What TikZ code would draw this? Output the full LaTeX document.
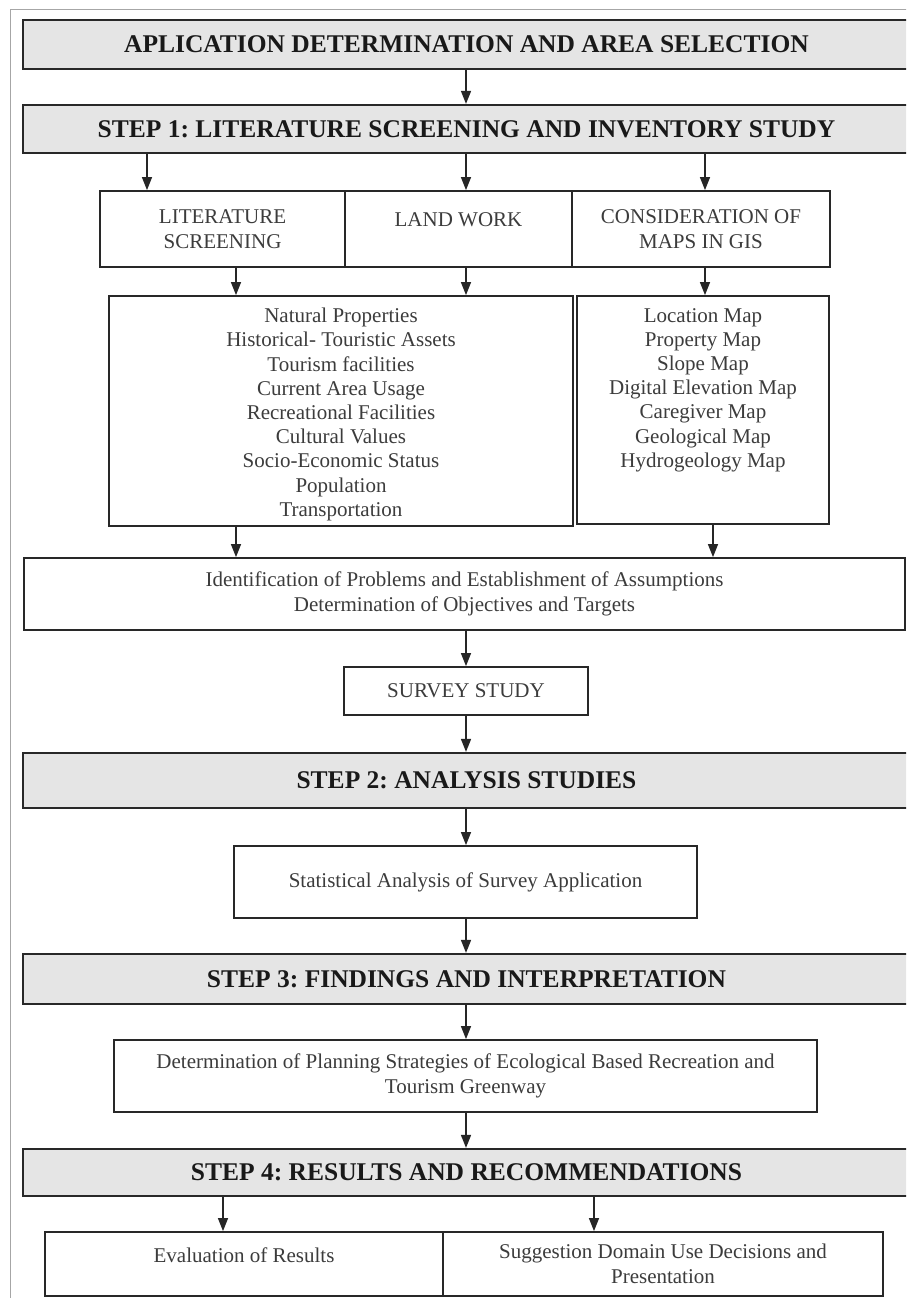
\documentclass[tikz,border=0pt]{standalone}
\usepackage{fontspec}
\setmainfont{Liberation Serif}
\usetikzlibrary{arrows.meta}
\frenchspacing
\definecolor{step-fill}{RGB}{229,229,229}
\definecolor{box-draw}{RGB}{40,40,40}
\definecolor{box-text}{RGB}{60,60,60}
\tikzset{stepbox/.style={draw=box-draw, fill=step-fill, line width=2.2pt, text=black!90, inner sep=0pt, font=\fontsize{25.5}{30}\selectfont\bfseries}}

\begin{document}
\begin{tikzpicture}[x=1pt, y=-1pt]
    % Page and outer frame (cut off at the right and at the bottom)
    \clip (0,0) rectangle (906,1298);
    \fill[white] (0,0) rectangle (906,1298);
    \draw[gray!70, line width=1pt] (10,1340) -- (10,10) -- (950,10);

    % Plain box and arrow styles
    \tikzset{plainbox/.style={draw=box-draw, fill=white, line width=1.8pt, text=box-text, align=center, inner sep=0pt, font=\fontsize{21}{24.5}\selectfont},
             listtext/.style={text=box-text, align=center, inner sep=0pt, anchor=north, font=\fontsize{21}{24.2}\selectfont},
             arr/.style={-{Triangle[length=13pt, width=10pt]}, line width=1.4pt, draw=black!85}}

    % Grey step bars
    \node[stepbox, minimum width=887pt, minimum height=49pt] (apl) at (466.5,44.5) {APLICATION DETERMINATION AND AREA SELECTION};
    \node[stepbox, minimum width=887pt, minimum height=48pt] (step1) at (466.5,129) {STEP 1: LITERATURE SCREENING AND INVENTORY STUDY};
    \node[stepbox, minimum width=887pt, minimum height=55pt] (step2) at (466.5,780.5) {STEP 2: ANALYSIS STUDIES};
    \node[stepbox, minimum width=887pt, minimum height=50pt] (step3) at (466.5,979) {STEP 3: FINDINGS AND INTERPRETATION};
    \node[stepbox, minimum width=887pt, minimum height=47pt] (step4) at (466.5,1172.5) {STEP 4: RESULTS AND RECOMMENDATIONS};

    % Step 1 - inventory sources
    \node[plainbox, minimum width=245pt, minimum height=76pt] (lit) at (222.5,229) {LITERATURE\\SCREENING};
    \node[plainbox, minimum width=227pt, minimum height=76pt, text depth=18pt] (land) at (458.5,229) {LAND WORK};
    \node[plainbox, minimum width=258pt, minimum height=76pt] (gis) at (701,229) {CONSIDERATION OF\\MAPS IN GIS};

    % Inventory lists
    \node[plainbox, minimum width=464pt, minimum height=230pt] (info) at (341,411) {};
    \node[listtext] (infotext) at (341,308) {Natural Properties\\Historical- Touristic Assets\\Tourism facilities\\Current Area Usage\\Recreational Facilities\\Cultural Values\\Socio-Economic Status\\Population\\Transportation};
    \node[plainbox, minimum width=252pt, minimum height=228pt] (mapl) at (703,410) {};
    \node[listtext] (mapltext) at (703,308) {Location Map\\Property Map\\Slope Map\\Digital Elevation Map\\Caregiver Map\\Geological Map\\Hydrogeology Map};

    % Problems, survey and analysis
    \node[plainbox, minimum width=881pt, minimum height=72pt] (ident) at (464.5,594) {Identification of Problems and Establishment of Assumptions\\Determination of Objectives and Targets};
    \node[plainbox, minimum width=244pt, minimum height=48pt] (survey) at (466,691) {SURVEY STUDY};
    \node[plainbox, minimum width=463pt, minimum height=72pt] (stat) at (465.5,882) {Statistical Analysis of Survey Application};
    \node[plainbox, minimum width=703pt, minimum height=72pt] (det) at (465.5,1076) {Determination of Planning Strategies of Ecological Based Recreation and\\Tourism Greenway};

    % Step 4 - results
    \node[plainbox, minimum width=398pt, minimum height=64pt, text depth=18pt] (eval) at (244,1264) {Evaluation of Results};
    \node[plainbox, minimum width=440pt, minimum height=64pt] (sugg) at (663,1264) {Suggestion Domain Use Decisions and\\Presentation};

    % Arrows
    \draw[arr] (apl.south -| 466,0) -- (step1.north -| 466,0);
    \foreach \x/\to in {147/lit, 466/land, 705/gis}
        \draw[arr] (step1.south -| \x,0) -- (\to.north -| \x,0);
    \foreach \x/\from/\to in {236/lit/info, 466/land/info, 705/gis/mapl, 236/info/ident, 713/mapl/ident}
        \draw[arr] (\from.south -| \x,0) -- (\to.north -| \x,0);
    \foreach \from/\to in {ident/survey, survey/step2, step2/stat, stat/step3, step3/det, det/step4}
        \draw[arr] (\from.south -| 466,0) -- (\to.north -| 466,0);
    \foreach \x/\to in {223/eval, 594/sugg}
        \draw[arr] (step4.south -| \x,0) -- (\to.north -| \x,0);
\end{tikzpicture}
\end{document}
